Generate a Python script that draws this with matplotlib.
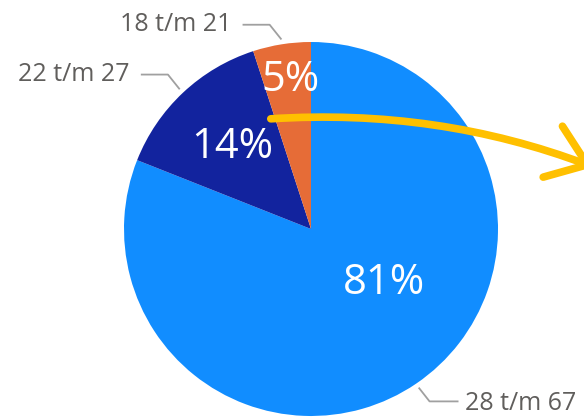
import matplotlib.pyplot as plt
import numpy as np
from matplotlib.patches import FancyArrowPatch

# slices, clockwise from 12 o'clock
labels = ['28 t/m 67', '22 t/m 27', '18 t/m 21']
shares = [81, 14, 5]
colors = ['#118DFF', '#12239E', '#E66C37']

plt.rcParams['font.family'] = ['Open Sans', 'DejaVu Sans']

W, H = 584, 419
fig = plt.figure(figsize=(W / 100, H / 100), dpi=100)
cx, cy, r = 311, 229, 187
ax = fig.add_axes([(cx - r) / W, (H - cy - r) / H, 2 * r / W, 2 * r / H])

wedges, _ = ax.pie(shares, colors=colors, startangle=90, counterclock=False,
                   radius=1, wedgeprops=dict(linewidth=0))
ax.set_xlim(-1, 1)
ax.set_ylim(-1, 1)
ax.set_aspect('equal')
ax.axis('off')

# percentage labels inside the slices
pct_pos = [(0.39, -0.289), (-0.422, 0.439), (-0.112, 0.797)]
for s, (x, y) in zip(shares, pct_pos):
    ax.text(x, y, f'{s}%', color='white', fontsize=30, ha='center', va='center')

# category labels with leader lines
grey = '#605E5C'
line_grey = '#A0A0A0'
cum = np.cumsum([0] + shares[:-1])
for i, (lab, s) in enumerate(zip(labels, shares)):
    mid = np.deg2rad((cum[i] + s / 2) / 100 * 360)
    ax_ = 1.03 * np.sin(mid)
    ay_ = 1.03 * np.cos(mid)
    if ax_ > 0:
        ex, ey = ax_ + 0.055, ay_ - 0.07
        tx = ex + 0.15
        ax.plot([ax_, ex, tx], [ay_, ey, ey], color=line_grey, lw=1.3, clip_on=False)
        ax.text(tx + 0.04, ey - 0.01, lab, color=grey, fontsize=18, ha='left', va='center')
    else:
        ex, ey = ax_ - 0.06, ay_ + 0.075
        tx = ex - 0.14
        ax.plot([ax_, ex, tx], [ay_, ey, ey], color=line_grey, lw=1.3, clip_on=False)
        ax.text(tx - 0.065, ey, lab, color=grey, fontsize=18, ha='right', va='center')

# curved yellow arrow, running off the right edge
arrow = FancyArrowPatch((268 / W, 1 - 119 / H), (596 / W, 1 - 168 / H),
                        transform=fig.transFigure,
                        connectionstyle='arc3,rad=-0.11',
                        arrowstyle='->,head_length=1.9,head_width=1.4',
                        mutation_scale=14, color='#FFC000', lw=5.5,
                        capstyle='round', joinstyle='round')
fig.patches.append(arrow)

fig.savefig('out.png', dpi=100)
